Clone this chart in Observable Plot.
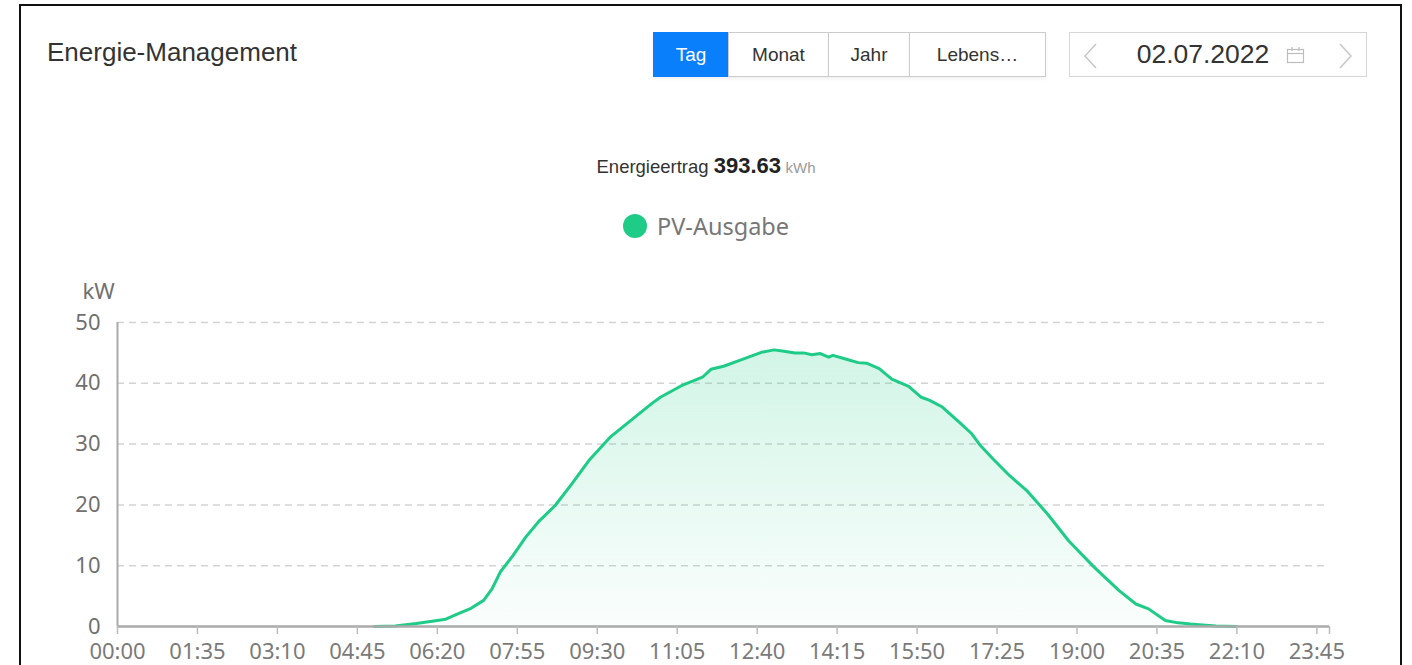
<!DOCTYPE html>
<html>
<head>
<meta charset="utf-8">
<script src="https://cdn.jsdelivr.net/npm/d3@7"></script>
<script src="https://cdn.jsdelivr.net/npm/@observablehq/plot@0.6"></script>
<style>
  html, body { margin: 0; padding: 0; background: #fff; }
  #page { position: relative; width: 1412px; height: 665px; overflow: hidden; font-family: "Liberation Sans", Arial, sans-serif; }
  .abs { position: absolute; }
  #frame { left: 19px; top: 4px; width: 1383px; height: 720px; border: 2px solid #111; box-sizing: border-box; pointer-events: none; }
  #title { left: 47px; top: 37px; font-size: 26px; color: #333; white-space: nowrap; }
  .btn { top: 32px; height: 45px; box-sizing: border-box; border: 1px solid #ccc; background: #fff; color: #333; font-size: 19px; display: flex; align-items: center; justify-content: center; box-shadow: 0 2px 3px rgba(0,0,0,0.06); }
  .btn.active { background: #0a7ffb; border-color: #0a7ffb; color: #fff; }
  #datebox { left: 1069px; top: 32px; width: 298px; height: 45px; box-sizing: border-box; border: 1px solid #d6d6d6; background: #fff; }
  #datetext { left: 1069px; top: 32px; width: 268px; height: 45px; display: flex; align-items: center; justify-content: center; font-size: 26.5px; color: #333; }
  #yield { left: 0; top: 153px; width: 1412px; text-align: center; color: #333; white-space: nowrap; }
  #legend { left: 623px; top: 210px; display: flex; align-items: center; font-family: "Noto Sans", sans-serif; font-size: 23.5px; color: #777; }
  #legend .dot { width: 24px; height: 24px; border-radius: 50%; margin-right: 10px; }
  #chart { left: 0; top: 270px; }
</style>
</head>
<body>
<div id="page">
  <div class="abs" id="title">Energie-Management</div>

  <div class="abs btn active" style="left:653px;width:76px;">Tag</div>
  <div class="abs btn" style="left:728px;width:101px;">Monat</div>
  <div class="abs btn" style="left:828px;width:82px;">Jahr</div>
  <div class="abs btn" style="left:909px;width:137px;">Lebens…</div>

  <div class="abs" id="datebox"></div>
  <svg class="abs" style="left:1080px;top:42px" width="20" height="28"><polyline points="16,2 5,14 16,26" fill="none" stroke="#c9c9c9" stroke-width="1.6"/></svg>
  <div class="abs" id="datetext">02.07.2022</div>
  <svg class="abs" style="left:1286px;top:46px" width="20" height="19"><rect x="1.5" y="3.5" width="16" height="13" fill="none" stroke="#bdbdbd" stroke-width="1.2"/><line x1="1.5" y1="7.5" x2="17.5" y2="7.5" stroke="#bdbdbd" stroke-width="1.2"/><line x1="6" y1="1" x2="6" y2="5" stroke="#bdbdbd" stroke-width="1.2"/><line x1="13" y1="1" x2="13" y2="5" stroke="#bdbdbd" stroke-width="1.2"/></svg>
  <svg class="abs" style="left:1336px;top:42px" width="20" height="28"><polyline points="4,2 15,14 4,26" fill="none" stroke="#c9c9c9" stroke-width="1.6"/></svg>

  <div class="abs" id="yield"><span style="font-size:18.5px">Energieertrag </span><b style="font-size:22px;color:#222">393.63</b> <span style="font-size:15px;color:#9a9a9a">kWh</span></div>

  <div class="abs" id="legend"><div class="dot" id="legdot"></div><span id="legtext"></span></div>

  <div class="abs" id="chart"></div>
  <div class="abs" id="frame"></div>
</div>
<script>
// ---- data ----
const seriesName = "PV-Ausgabe";
const unit = "kW";
const times = ["05:05","05:30","05:55","06:20","06:30","06:45","07:00","07:15","07:25","07:35","07:50",
  "08:05","08:20","08:40","09:00","09:20","09:45","10:10","10:35","10:45","11:10","11:35","11:45",
  "12:00","12:20","12:45","13:00","13:10","13:25","13:35","13:45","13:55","14:05","14:10","14:25",
  "14:40","14:50","15:05","15:20","15:40","15:55","16:05","16:20","16:40","16:55","17:05","17:20",
  "17:40","18:00","18:25","18:50","19:20","19:50","20:10","20:25","20:45","21:00","21:15","21:25",
  "21:45","22:10"];
const power = [0,0.1,0.5,1.0,1.2,2.1,3.0,4.3,6.2,9.0,11.7,
  14.7,17.2,19.9,23.5,27.3,31.1,33.9,36.7,37.7,39.6,41.0,42.3,
  42.8,43.8,45.1,45.5,45.3,45.0,45.0,44.7,44.9,44.3,44.6,44.0,
  43.4,43.3,42.4,40.7,39.5,37.7,37.2,36.1,33.6,31.7,29.8,27.6,
  24.8,22.4,18.5,14.1,9.8,5.9,3.7,2.9,1.0,0.6,0.4,0.3,
  0.1,0];
const xTickLabels = ["00:00","01:35","03:10","04:45","06:20","07:55","09:30","11:05","12:40","14:15","15:50","17:25","19:00","20:35","22:10","23:45"];
const yTicks = [0,10,20,30,40,50];
const dayEnd = "24:00";
const lineColor = "#1ecb87";

// ---- build ----
const toMin = s => { const [h, m] = s.split(":").map(Number); return h * 60 + m; };
const data = times.map((t, i) => ({t: toMin(t), v: power[i]}));
const tickPos = xTickLabels.map(toMin);
const endMin = toMin(dayEnd);
const labelOf = new Map(xTickLabels.map(l => [toMin(l), l]));

document.getElementById("legdot").style.background = lineColor;
document.getElementById("legtext").textContent = seriesName;

const ns = "http://www.w3.org/2000/svg";
const gradientDefs = () => {
  const defs = document.createElementNS(ns, "defs");
  defs.innerHTML = `<linearGradient id="pvgrad" x1="0" y1="0" x2="0" y2="1">
    <stop offset="0%" stop-color="${lineColor}" stop-opacity="0.2"/>
    <stop offset="100%" stop-color="${lineColor}" stop-opacity="0.02"/>
  </linearGradient>`;
  return defs;
};

const chart = Plot.plot({
  width: 1412,
  height: 395,
  marginLeft: 117,
  marginRight: 83,
  marginTop: 52,
  marginBottom: 39,
  style: {background: "transparent", overflow: "visible"},
  x: {type: "linear", domain: [0, endMin], label: null},
  y: {domain: [0, 50], label: null},
  marks: [
    gradientDefs,
    Plot.ruleY(yTicks.filter(d => d > 0), {stroke: "#d4d4d4", strokeWidth: 1.5, strokeDasharray: "7,5"}),
    Plot.areaY(data, {x: "t", y: "v", fill: "url(#pvgrad)"}),
    Plot.lineY(data, {x: "t", y: "v", stroke: lineColor, strokeWidth: 3, strokeLinejoin: "round"}),
    Plot.ruleX([0], {stroke: "#aaa", strokeWidth: 2}),
    Plot.ruleY([0], {stroke: "#aaa", strokeWidth: 2.5}),
    Plot.axisX({ticks: [...tickPos, endMin], tickSize: 8, tickPadding: 9, stroke: "#bbb", strokeWidth: 1.5, label: null,
      tickFormat: d => labelOf.get(d) ?? "", fontSize: 22, fontFamily: "Noto Sans", fill: "#7a7a7a"}),
    Plot.axisY({ticks: yTicks, tickSize: 0, tickPadding: 17, fontSize: 22, fontFamily: "Noto Sans", fill: "#707070", label: null}),
    Plot.text([unit], {x: 0, y: 50, dx: -19, dy: -31, fontSize: 22, fontFamily: "Noto Sans", fill: "#707070", textAnchor: "middle"})
  ]
});
document.getElementById("chart").appendChild(chart);
</script>
</body>
</html>
